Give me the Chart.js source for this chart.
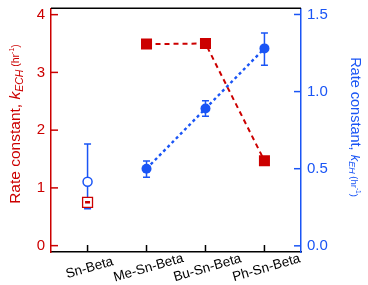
<!DOCTYPE html>
<html>
<head>
<meta charset="utf-8">
<script src="https://cdn.jsdelivr.net/npm/chart.js@4"></script>
<style>
html,body{margin:0;padding:0;background:#fff;}
canvas{display:block;}
</style>
</head>
<body>
<canvas id="c" width="368" height="285"></canvas>
<script>
// ---- data ----
const categories = ['Sn-Beta', 'Me-Sn-Beta', 'Bu-Sn-Beta', 'Ph-Sn-Beta'];
const kECH = [0.75, 3.49, 3.50, 1.47];           // left axis (hr^-1)
const kECHlow = [0.74, null, null, null];
const kECHhigh = [0.76, null, null, null];
const kEH = [0.415, 0.50, 0.89, 1.28];           // right axis (hr^-1)
const kEHlow = [0.24, 0.445, 0.84, 1.17];
const kEHhigh = [0.66, 0.55, 0.94, 1.38];
const leftTicks = [0, 1, 2, 3, 4];
const rightTicks = [0, 0.5, 1.0, 1.5];

const RED = '#cc0000';
const BLUE = '#1a55f5';
const FONT = '"Liberation Sans", Arial, Helvetica, sans-serif';

const pts = (arr, idx) => idx.map(i => ({x: i, y: arr[i]}));

const decor = {
  id: 'decor',
  beforeDatasetsDraw(chart) {
    const ctx = chart.ctx, xs = chart.scales.x, yr = chart.scales.y2;
    ctx.save();
    categories.forEach((c, i) => {
      if (kEHlow[i] == null) return;
      const x = xs.getPixelForValue(i);
      const y1 = yr.getPixelForValue(kEHlow[i]), y2 = yr.getPixelForValue(kEHhigh[i]);
      const cap = 3.5;
      ctx.strokeStyle = BLUE; ctx.lineWidth = 1.5; ctx.setLineDash([]);
      ctx.beginPath();
      ctx.moveTo(x, y1); ctx.lineTo(x, y2);
      ctx.moveTo(x - cap, y1); ctx.lineTo(x + cap, y1);
      ctx.moveTo(x - cap, y2); ctx.lineTo(x + cap, y2);
      ctx.stroke();
    });
    ctx.restore();
  },
  afterDatasetsDraw(chart) {
    const ctx = chart.ctx, xs = chart.scales.x, yl = chart.scales.y;
    ctx.save();
    categories.forEach((c, i) => {
      if (kECHlow[i] == null) return;
      const x = xs.getPixelForValue(i);
      const y1 = yl.getPixelForValue(kECHlow[i]), y2 = yl.getPixelForValue(kECHhigh[i]);
      ctx.strokeStyle = RED; ctx.lineWidth = 1.3;
      ctx.beginPath();
      ctx.moveTo(x - 2.5, y1); ctx.lineTo(x + 2.5, y1);
      ctx.moveTo(x - 2.5, y2); ctx.lineTo(x + 2.5, y2);
      ctx.stroke();
    });
    ctx.restore();
  },
  afterDraw(chart) {
    const ctx = chart.ctx, a = chart.chartArea;
    const xs = chart.scales.x, yl = chart.scales.y, yr = chart.scales.y2;
    ctx.save();
    ctx.setLineDash([]);
    // top border
    ctx.strokeStyle = '#000'; ctx.lineWidth = 1.5;
    ctx.beginPath(); ctx.moveTo(a.left, a.top); ctx.lineTo(a.right, a.top); ctx.stroke();
    // inward ticks
    ctx.lineWidth = 1.5;
    ctx.strokeStyle = RED;
    leftTicks.forEach(v => { const y = yl.getPixelForValue(v); ctx.beginPath(); ctx.moveTo(a.left, y); ctx.lineTo(a.left + 7, y); ctx.stroke(); });
    ctx.strokeStyle = BLUE;
    rightTicks.forEach(v => { const y = yr.getPixelForValue(v); ctx.beginPath(); ctx.moveTo(a.right, y); ctx.lineTo(a.right - 7, y); ctx.stroke(); });
    ctx.strokeStyle = '#000';
    categories.forEach((c, i) => { const x = xs.getPixelForValue(i); ctx.beginPath(); ctx.moveTo(x, a.bottom); ctx.lineTo(x, a.bottom - 7); ctx.stroke(); });
    // x category labels, rotated, centered under ticks
    ctx.fillStyle = '#000';
    ctx.font = '13.5px ' + FONT;
    ctx.textAlign = 'center'; ctx.textBaseline = 'middle';
    categories.forEach((c, i) => {
      const x = xs.getPixelForValue(i) + 2;
      ctx.save(); ctx.translate(x, a.bottom + 16); ctx.rotate(-16 * Math.PI / 180);
      ctx.fillText(c, 0, 0); ctx.restore();
    });
    // rich axis titles
    const drawRich = (parts, cx, cy, rot, color) => {
      ctx.save();
      ctx.translate(cx, cy); ctx.rotate(rot);
      ctx.fillStyle = color; ctx.textAlign = 'left'; ctx.textBaseline = 'alphabetic';
      let total = 0;
      parts.forEach(p => { ctx.font = p.f; p.w = ctx.measureText(p.t).width; total += p.w; });
      let x = -total / 2;
      parts.forEach(p => { ctx.font = p.f; ctx.fillText(p.t, x, 5 + (p.dy || 0)); x += p.w; });
      ctx.restore();
    };
    drawRich([
      {t: 'Rate constant, ', f: '15.5px ' + FONT},
      {t: 'k', f: 'italic 15.5px ' + FONT},
      {t: 'ECH', f: 'italic 10.5px ' + FONT, dy: 3},
      {t: ' (hr', f: '10.5px ' + FONT, dy: -1},
      {t: '-1', f: '7px ' + FONT, dy: -6},
      {t: ')', f: '10.5px ' + FONT, dy: -1}
    ], 15, 124, -Math.PI / 2, RED);
    drawRich([
      {t: 'Rate constant, ', f: '14.5px ' + FONT},
      {t: 'k', f: 'italic 13px ' + FONT},
      {t: 'EH', f: 'italic 9px ' + FONT, dy: 2},
      {t: ' (hr', f: '9.5px ' + FONT, dy: 0},
      {t: '-1', f: '6.5px ' + FONT, dy: -5},
      {t: ')', f: '9.5px ' + FONT, dy: 0}
    ], 356, 127, Math.PI / 2, BLUE);
    ctx.restore();
  }
};

const noPad = s => { s.paddingTop = 0; s.paddingBottom = 0; };

new Chart(document.getElementById('c'), {
  type: 'scatter',
  data: {
    datasets: [
      { // kECH Sn-Beta (open)
        data: pts(kECH, [0]), yAxisID: 'y', showLine: false,
        pointStyle: 'rect', pointRadius: 7, borderColor: RED, backgroundColor: '#fff', borderWidth: 1.3
      },
      { // kECH substituted
        data: pts(kECH, [1, 2, 3]), yAxisID: 'y', showLine: true,
        borderColor: RED, backgroundColor: RED, borderWidth: 2, borderDash: [5, 4],
        pointStyle: 'rect', pointRadius: 7.8, pointBorderWidth: 0, pointBackgroundColor: RED
      },
      { // kEH Sn-Beta (open)
        data: pts(kEH, [0]), yAxisID: 'y2', showLine: false,
        pointStyle: 'circle', pointRadius: 4.5, borderColor: BLUE, backgroundColor: '#fff', borderWidth: 1.5
      },
      { // kEH substituted
        data: pts(kEH, [1, 2, 3]), yAxisID: 'y2', showLine: true,
        borderColor: BLUE, backgroundColor: BLUE, borderWidth: 2.4, borderDash: [3, 3],
        pointStyle: 'circle', pointRadius: 5, pointBorderWidth: 0, pointBackgroundColor: BLUE
      }
    ]
  },
  options: {
    responsive: false,
    animation: false,
    events: [],
    layout: {padding: {top: 3, left: 0, right: 0, bottom: 0}},
    plugins: {legend: {display: false}, tooltip: {enabled: false}},
    scales: {
      x: {
        type: 'linear', min: -0.62, max: 3.62,
        grid: {display: false, drawTicks: false},
        border: {display: true, color: '#000', width: 1.5},
        ticks: {display: false},
        afterFit: s => { s.height = 33; s.paddingLeft = 0; s.paddingRight = 0; }
      },
      y: {
        position: 'left', min: -0.11, max: 4.11,
        grid: {display: false, drawTicks: false},
        border: {display: true, color: RED, width: 1.5},
        afterBuildTicks: s => { s.ticks = leftTicks.map(v => ({value: v})); },
        ticks: {color: RED, padding: 6, font: {size: 15, family: FONT}, callback: v => String(v)},
        afterFit: s => { s.width = 51; noPad(s); }
      },
      y2: {
        position: 'right', min: -0.04, max: 1.54,
        grid: {display: false, drawTicks: false},
        border: {display: true, color: BLUE, width: 1.5},
        afterBuildTicks: s => { s.ticks = rightTicks.map(v => ({value: v})); },
        ticks: {color: BLUE, padding: 6, font: {size: 15, family: FONT}, callback: v => Number(v).toFixed(1)},
        afterFit: s => { s.width = 67; noPad(s); }
      }
    }
  },
  plugins: [decor]
});
</script>
</body>
</html>
